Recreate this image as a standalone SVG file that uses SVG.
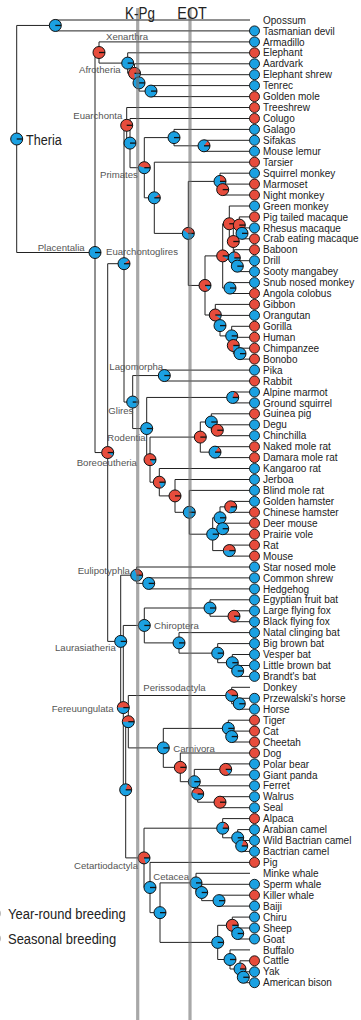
<svg xmlns="http://www.w3.org/2000/svg" width="361" height="1020" viewBox="0 0 361 1020">
<style>
.e{fill:none;stroke:#222;stroke-width:1}
.b{fill:#1BA1E2}
.r{fill:#E74C3C}
.o{fill:none;stroke:#111;stroke-width:1}
.k{stroke:#111;stroke-width:1.3}
.tb{fill:#1BA1E2;stroke:#111;stroke-width:0.9}
.tr{fill:#E74C3C;stroke:#111;stroke-width:0.9}
.tl{font-family:"Liberation Sans",Arial,sans-serif;font-size:10px;fill:#222;white-space:pre}
.cl{font-family:"Liberation Sans",Arial,sans-serif;font-size:9.6px;fill:#555}
.big{font-family:"Liberation Sans",Arial,sans-serif;font-size:15px;fill:#222}
.ax{font-family:"Liberation Sans",Arial,sans-serif;font-size:16px;fill:#222}
.bar{fill:#6e6e6e;fill-opacity:0.6}
.lg{fill:#bbb}
</style>
<defs>
<g id="ring"><circle r="6" class="o"/><path d="M0,0H6" class="k"/></g>
<g id="p0"><circle r="6" class="b"/><use href="#ring"/></g>
<g id="p100"><circle r="6" class="r"/><use href="#ring"/></g>
<g id="p10"><circle r="6" class="b"/><path class="r" d="M0,0H6A6,6 0 0 0 4.854,-3.527Z"/><use href="#ring"/></g>
<g id="p15"><circle r="6" class="b"/><path class="r" d="M0,0H6A6,6 0 0 0 3.527,-4.854Z"/><use href="#ring"/></g>
<g id="p20"><circle r="6" class="b"/><path class="r" d="M0,0H6A6,6 0 0 0 1.854,-5.706Z"/><use href="#ring"/></g>
<g id="p25"><circle r="6" class="b"/><path class="r" d="M0,0H6A6,6 0 0 0 0,-6Z"/><use href="#ring"/></g>
<g id="p30"><circle r="6" class="b"/><path class="r" d="M0,0H6A6,6 0 0 0 -1.854,-5.706Z"/><use href="#ring"/></g>
<g id="p40"><circle r="6" class="b"/><path class="r" d="M0,0H6A6,6 0 0 0 -4.854,-3.527Z"/><use href="#ring"/></g>
<g id="p45"><circle r="6" class="b"/><path class="r" d="M0,0H6A6,6 0 0 0 -5.706,-1.854Z"/><use href="#ring"/></g>
<g id="p50"><circle r="6" class="b"/><path class="r" d="M0,0H6A6,6 0 0 0 -6,0Z"/><use href="#ring"/></g>
<g id="p70"><circle r="6" class="b"/><path class="r" d="M0,0H6A6,6 0 1 0 -1.854,5.706Z"/><use href="#ring"/></g>
<g id="p75"><circle r="6" class="b"/><path class="r" d="M0,0H6A6,6 0 1 0 0,6Z"/><use href="#ring"/></g>
<g id="p80"><circle r="6" class="b"/><path class="r" d="M0,0H6A6,6 0 1 0 1.854,5.706Z"/><use href="#ring"/></g>
<g id="p85"><circle r="6" class="b"/><path class="r" d="M0,0H6A6,6 0 1 0 3.527,4.854Z"/><use href="#ring"/></g>
<g id="p90"><circle r="6" class="b"/><path class="r" d="M0,0H6A6,6 0 1 0 4.854,3.527Z"/><use href="#ring"/></g>
</defs>
<rect width="361" height="1020" fill="#fff"/>

<g id="connectors" class="e">
<path d="M16.7,25.45V252.5M16.7,25.45H55.3M16.7,252.5H95"/>
<path d="M55.3,20V30.9M55.3,20H250M55.3,30.9H250"/>
<path d="M95,52.5V452.55M95,52.5H99M95,452.55H107.7"/>
<path d="M99,41.9V63.1M99,41.9H250M99,63.1H127.7"/>
<path d="M127.7,52.8V73.35M127.7,52.8H250M127.7,73.35H134.5"/>
<path d="M134.5,63.8V82.9M134.5,63.8H250M134.5,82.9H139"/>
<path d="M139,74.7V91.1M139,74.7H250M139,91.1H151"/>
<path d="M151,85.6V96.6M151,85.6H250M151,96.6H250"/>
<path d="M107.7,263.7V641.4M107.7,263.7H124M107.7,641.4H120.7"/>
<path d="M124,125.3V402.05M124,125.3H126.7M124,402.05H132.7"/>
<path d="M126.7,107.5V143.1M126.7,107.5H250M126.7,143.1H130"/>
<path d="M130,118.5V167.7M130,118.5H250M130,167.7H144.3"/>
<path d="M144.3,137.6V197.8M144.3,137.6H174M144.3,197.8H154.3"/>
<path d="M174,129.4V145.8M174,129.4H250M174,145.8H204"/>
<path d="M204,140.3V151.3M204,140.3H250M204,151.3H250"/>
<path d="M154.3,162.2V233.4M154.3,162.2H250M154.3,233.4H188.3"/>
<path d="M188.3,181.4V285.45M188.3,181.4H220M188.3,285.45H205"/>
<path d="M220,173.2V189.6M220,173.2H250M220,189.6H222.7"/>
<path d="M222.7,184.1V195M222.7,184.1H250M222.7,195H250"/>
<path d="M205,255.9V315M205,255.9H222.7M205,315H215.3"/>
<path d="M222.7,223.75V288.05M222.7,223.75H229.3M222.7,288.05H230"/>
<path d="M229.3,206V241.5M229.3,206H250M229.3,241.5H233.3"/>
<path d="M233.3,225.1V257.9M233.3,225.1H239.3M233.3,257.9H234.3"/>
<path d="M239.3,216.9V233.35M239.3,216.9H250M239.3,233.35H242"/>
<path d="M242,227.9V238.8M242,227.9H250M242,238.8H250"/>
<path d="M234.3,249.7V266.15M234.3,249.7H250M234.3,266.15H237.3"/>
<path d="M237.3,260.7V271.6M237.3,260.7H250M237.3,271.6H250"/>
<path d="M230,282.6V293.5M230,282.6H250M230,293.5H250"/>
<path d="M215.3,304.4V325.6M215.3,304.4H250M215.3,325.6H220"/>
<path d="M220,315.4V335.9M220,315.4H250M220,335.9H231.7"/>
<path d="M231.7,326.3V345.5M231.7,326.3H250M231.7,345.5H233.3"/>
<path d="M233.3,337.3V353.65M233.3,337.3H250M233.3,353.65H240"/>
<path d="M240,348.2V359.1M240,348.2H250M240,359.1H250"/>
<path d="M132.7,375.55V428.55M132.7,375.55H164.3M132.7,428.55H146.7"/>
<path d="M164.3,370.1V381M164.3,370.1H250M164.3,381H250"/>
<path d="M146.7,397.45V459.65M146.7,397.45H232.7M146.7,459.65H150"/>
<path d="M232.7,392V402.9M232.7,392H250M232.7,402.9H250"/>
<path d="M150,437.1V482.2M150,437.1H200.3M150,482.2H159.3"/>
<path d="M200.3,422V452.15M200.3,422H211.3M200.3,452.15H215"/>
<path d="M211.3,413.8V430.25M211.3,413.8H250M211.3,430.25H217.3"/>
<path d="M217.3,424.8V435.7M217.3,424.8H250M217.3,435.7H250"/>
<path d="M215,446.7V457.6M215,446.7H250M215,457.6H250"/>
<path d="M159.3,468.5V495.9M159.3,468.5H250M159.3,495.9H175"/>
<path d="M175,479.5V512.3M175,479.5H250M175,512.3H189.3"/>
<path d="M189.3,490.4V534.2M189.3,490.4H250M189.3,534.2H212.7"/>
<path d="M212.7,517.8V550.6M212.7,517.8H220M212.7,550.6H229.3"/>
<path d="M220,506.85V528.7M220,506.85H230.7M220,528.7H222.7"/>
<path d="M230.7,501.4V512.3M230.7,501.4H250M230.7,512.3H250"/>
<path d="M222.7,523.2V534.2M222.7,523.2H250M222.7,534.2H250"/>
<path d="M229.3,545.1V556.1M229.3,545.1H250M229.3,556.1H250"/>
<path d="M120.7,575.2V707.6M120.7,575.2H136.7M120.7,707.6H123.3"/>
<path d="M136.7,567V583.4M136.7,567H250M136.7,583.4H148.7"/>
<path d="M148.7,577.9V588.9M148.7,577.9H250M148.7,588.9H250"/>
<path d="M123.3,625.45V789.8M123.3,625.45H144.3M123.3,789.8H125.7"/>
<path d="M144.3,608V642.9M144.3,608H210M144.3,642.9H179"/>
<path d="M210,599.8V616.25M210,599.8H250M210,616.25H234"/>
<path d="M234,610.8V621.7M234,610.8H250M234,621.7H250"/>
<path d="M179,632.6V653.15M179,632.6H250M179,653.15H217.7"/>
<path d="M217.7,643.6V662.7M217.7,643.6H250M217.7,662.7H232.3"/>
<path d="M232.3,654.5V670.95M232.3,654.5H250M232.3,670.95H237.7"/>
<path d="M237.7,665.5V676.4M237.7,665.5H250M237.7,676.4H250"/>
<path d="M125.7,721.7V857.9M125.7,721.7H128.3M125.7,857.9H144"/>
<path d="M128.3,695.5V747.9M128.3,695.5H231.7M128.3,747.9H163.3"/>
<path d="M231.7,687.3V703.75M231.7,687.3H250M231.7,703.75H239.3"/>
<path d="M239.3,698.3V709.2M239.3,698.3H250M239.3,709.2H250"/>
<path d="M163.3,728.4V767.35M163.3,728.4H228.3M163.3,767.35H180.3"/>
<path d="M228.3,720.2V736.55M228.3,720.2H250M228.3,736.55H231.7"/>
<path d="M231.7,731.1V742M231.7,731.1H250M231.7,742H250"/>
<path d="M180.3,753V781.7M180.3,753H250M180.3,781.7H194.3"/>
<path d="M194.3,769.4V794M194.3,769.4H225.7M194.3,794H197.7"/>
<path d="M225.7,763.9V774.9M225.7,763.9H250M225.7,774.9H250"/>
<path d="M197.7,785.8V802.2M197.7,785.8H250M197.7,802.2H220"/>
<path d="M220,796.7V807.7M220,796.7H250M220,807.7H250"/>
<path d="M144,828.2V887.5M144,828.2H222.7M144,887.5H150"/>
<path d="M222.7,818.6V837.8M222.7,818.6H250M222.7,837.8H237.7"/>
<path d="M237.7,829.6V845.95M237.7,829.6H250M237.7,845.95H241.7"/>
<path d="M241.7,840.5V851.4M241.7,840.5H250M241.7,851.4H250"/>
<path d="M150,862.4V912.65M150,862.4H250M150,912.65H160"/>
<path d="M160,882.9V942.4M160,882.9H196M160,942.4H217.7"/>
<path d="M196,873.3V892.5M196,873.3H250M196,892.5H201.7"/>
<path d="M201.7,884.3V900.65M201.7,884.3H250M201.7,900.65H219"/>
<path d="M219,895.2V906.1M219,895.2H250M219,906.1H250"/>
<path d="M217.7,925.3V959.5M217.7,925.3H232.3M217.7,959.5H230"/>
<path d="M232.3,917.1V933.5M232.3,917.1H250M232.3,933.5H237.7"/>
<path d="M237.7,928V939M237.7,928H250M237.7,939H250"/>
<path d="M230,949.9V969M230,949.9H250M230,969H240"/>
<path d="M240,960.8V977.25M240,960.8H250M240,977.25H243.3"/>
<path d="M243.3,971.8V982.7M243.3,971.8H250M243.3,982.7H250"/>
</g>

<g id="clade-labels" class="cl">
<text x="106" y="40">Xenarthra</text>
<text x="79" y="72.5">Afrotheria</text>
<text x="73.3" y="118.5">Euarchonta</text>
<text x="100" y="177.5">Primates</text>
<text x="37.7" y="250.5">Placentalia</text>
<text x="106" y="255">Euarchontoglires</text>
<text x="109.3" y="370">Lagomorpha</text>
<text x="108.3" y="414">Glires</text>
<text x="107.3" y="441">Rodentia</text>
<text x="76.7" y="466">Boreoeutheria</text>
<text x="77.7" y="573.5">Eulipotyphla</text>
<text x="154" y="628.5">Chiroptera</text>
<text x="55" y="651">Laurasiatheria</text>
<text x="143.3" y="690.7">Perissodactyla</text>
<text x="51.7" y="711.7">Fereuungulata</text>
<text x="173.3" y="751.5">Carnivora</text>
<text x="74" y="868.5">Cetartiodactyla</text>
<text x="153.3" y="879.5">Cetacea</text>
</g>

<g id="n-theria"><use href="#p0" x="16.7" y="139"/><text class="big" transform="translate(26,145) scale(0.84,1)">Theria</text></g>
<g id="n-marsupialia"><use href="#p0" x="55.3" y="25.45"/></g>
<g id="n-placentalia"><use href="#p0" x="95" y="252.5"/></g>
<g id="n-atlantogenata"><use href="#p100" x="99" y="52.5"/></g>
<g id="n-afrotheria"><use href="#p0" x="127.7" y="63.1"/></g>
<g id="n-afro1"><use href="#p75" x="134.5" y="73.35"/></g>
<g id="n-afro2"><use href="#p0" x="139" y="82.9"/></g>
<g id="n-afro3"><use href="#p0" x="151" y="91.1"/></g>
<g id="n-boreoeutheria"><use href="#p90" x="107.7" y="452.55"/></g>
<g id="n-euarchontoglires"><use href="#p10" x="124" y="263.7"/></g>
<g id="n-euarchonta"><use href="#p100" x="126.7" y="125.3"/></g>
<g id="n-primatomorpha"><use href="#p0" x="130" y="143.1"/></g>
<g id="n-primates"><use href="#p45" x="144.3" y="167.7"/></g>
<g id="n-strepsirrhini"><use href="#p0" x="174" y="137.6"/></g>
<g id="n-lemurs"><use href="#p15" x="204" y="145.8"/></g>
<g id="n-haplorhini"><use href="#p10" x="154.3" y="197.8"/></g>
<g id="n-anthropoidea"><use href="#p40" x="188.3" y="233.4"/></g>
<g id="n-platyrrhini"><use href="#p25" x="220" y="181.4"/></g>
<g id="n-callitrichid"><use href="#p100" x="222.7" y="189.6"/></g>
<g id="n-catarrhini"><use href="#p85" x="205" y="285.45"/></g>
<g id="n-cercopithecidae"><use href="#p90" x="222.7" y="255.9"/></g>
<g id="n-cercopithecinae"><use href="#p100" x="229.3" y="223.75"/></g>
<g id="n-papionini"><use href="#p100" x="233.3" y="241.5"/></g>
<g id="n-macaca"><use href="#p100" x="239.3" y="225.1"/></g>
<g id="n-rhesus-crab"><use href="#p0" x="242" y="233.35"/></g>
<g id="n-baboon-clade"><use href="#p25" x="234.3" y="257.9"/></g>
<g id="n-drill-sooty"><use href="#p0" x="237.3" y="266.15"/></g>
<g id="n-colobinae"><use href="#p0" x="230" y="288.05"/></g>
<g id="n-hominoidea"><use href="#p90" x="215.3" y="315"/></g>
<g id="n-hominidae"><use href="#p0" x="220" y="325.6"/></g>
<g id="n-homininae"><use href="#p0" x="231.7" y="335.9"/></g>
<g id="n-hominini"><use href="#p75" x="233.3" y="345.5"/></g>
<g id="n-pan"><use href="#p0" x="240" y="353.65"/></g>
<g id="n-glires"><use href="#p0" x="132.7" y="402.05"/></g>
<g id="n-lagomorpha"><use href="#p0" x="164.3" y="375.55"/></g>
<g id="n-rodentia"><use href="#p0" x="146.7" y="428.55"/></g>
<g id="n-sciuridae"><use href="#p20" x="232.7" y="397.45"/></g>
<g id="n-rod2"><use href="#p85" x="150" y="459.65"/></g>
<g id="n-hystricomorpha"><use href="#p100" x="200.3" y="437.1"/></g>
<g id="n-caviomorpha"><use href="#p0" x="211.3" y="422"/></g>
<g id="n-degu-chinchilla"><use href="#p100" x="217.3" y="430.25"/></g>
<g id="n-molerats"><use href="#p15" x="215" y="452.15"/></g>
<g id="n-rod3"><use href="#p80" x="159.3" y="482.2"/></g>
<g id="n-rod4"><use href="#p100" x="175" y="495.9"/></g>
<g id="n-rod5"><use href="#p0" x="189.3" y="512.3"/></g>
<g id="n-muroidea"><use href="#p0" x="212.7" y="534.2"/></g>
<g id="n-cricetidae"><use href="#p0" x="220" y="517.8"/></g>
<g id="n-hamsters"><use href="#p70" x="230.7" y="506.85"/></g>
<g id="n-deermouse-vole"><use href="#p0" x="222.7" y="528.7"/></g>
<g id="n-muridae"><use href="#p50" x="229.3" y="550.6"/></g>
<g id="n-laurasiatheria"><use href="#p0" x="120.7" y="641.4"/></g>
<g id="n-eulipotyphla"><use href="#p30" x="136.7" y="575.2"/></g>
<g id="n-shrew-hedgehog"><use href="#p0" x="148.7" y="583.4"/></g>
<g id="n-scrotifera"><use href="#p50" x="123.3" y="707.6"/></g>
<g id="n-chiroptera"><use href="#p0" x="144.3" y="625.45"/></g>
<g id="n-yinpterochiroptera"><use href="#p0" x="210" y="608"/></g>
<g id="n-pteropus"><use href="#p85" x="234" y="616.25"/></g>
<g id="n-yangochiroptera"><use href="#p0" x="179" y="642.9"/></g>
<g id="n-vesper1"><use href="#p0" x="217.7" y="653.15"/></g>
<g id="n-vesper2"><use href="#p0" x="232.3" y="662.7"/></g>
<g id="n-myotis"><use href="#p0" x="237.7" y="670.95"/></g>
<g id="n-fereuungulata"><use href="#p20" x="125.7" y="789.8"/></g>
<g id="n-peris-carn"><use href="#p50" x="128.3" y="721.7"/></g>
<g id="n-perissodactyla"><use href="#p40" x="231.7" y="695.5"/></g>
<g id="n-horses"><use href="#p0" x="239.3" y="703.75"/></g>
<g id="n-carnivora"><use href="#p0" x="163.3" y="747.9"/></g>
<g id="n-felidae"><use href="#p0" x="228.3" y="728.4"/></g>
<g id="n-cat-cheetah"><use href="#p0" x="231.7" y="736.55"/></g>
<g id="n-caniformia"><use href="#p100" x="180.3" y="767.35"/></g>
<g id="n-arctoidea"><use href="#p0" x="194.3" y="781.7"/></g>
<g id="n-ursidae"><use href="#p85" x="225.7" y="769.4"/></g>
<g id="n-musteloidea-pinn"><use href="#p45" x="197.7" y="794"/></g>
<g id="n-pinnipedia"><use href="#p100" x="220" y="802.2"/></g>
<g id="n-cetartiodactyla"><use href="#p80" x="144" y="857.9"/></g>
<g id="n-tylopoda"><use href="#p20" x="222.7" y="828.2"/></g>
<g id="n-camelus"><use href="#p0" x="237.7" y="837.8"/></g>
<g id="n-bactrians"><use href="#p20" x="241.7" y="845.95"/></g>
<g id="n-artiofabula"><use href="#p0" x="150" y="887.5"/></g>
<g id="n-cetruminantia"><use href="#p0" x="160" y="912.65"/></g>
<g id="n-cetacea"><use href="#p0" x="196" y="882.9"/></g>
<g id="n-odontoceti"><use href="#p0" x="201.7" y="892.5"/></g>
<g id="n-killer-baiji"><use href="#p0" x="219" y="900.65"/></g>
<g id="n-bovidae"><use href="#p0" x="217.7" y="942.4"/></g>
<g id="n-caprinae"><use href="#p75" x="232.3" y="925.3"/></g>
<g id="n-sheep-goat"><use href="#p0" x="237.7" y="933.5"/></g>
<g id="n-bovinae"><use href="#p0" x="230" y="959.5"/></g>
<g id="n-bos"><use href="#p20" x="240" y="969"/></g>
<g id="n-yak-bison"><use href="#p0" x="243.3" y="977.25"/></g>

<g id="tips" class="tl">
<g id="t-opossum"><text x="263" y="23.6">Opossum</text></g>
<g id="t-tasmanian-devil"><circle class="tb" cx="254.5" cy="30.9" r="5"/><text x="263" y="34.5">Tasmanian devil</text></g>
<g id="t-armadillo"><circle class="tb" cx="254.5" cy="41.9" r="5"/><text x="263" y="45.5">Armadillo</text></g>
<g id="t-elephant"><circle class="tr" cx="254.5" cy="52.8" r="5"/><text x="263" y="56.4">Elephant</text></g>
<g id="t-aardvark"><circle class="tb" cx="254.5" cy="63.8" r="5"/><text x="263" y="67.4">Aardvark</text></g>
<g id="t-elephant-shrew"><circle class="tb" cx="254.5" cy="74.7" r="5"/><text x="263" y="78.3">Elephant shrew</text></g>
<g id="t-tenrec"><circle class="tb" cx="254.5" cy="85.6" r="5"/><text x="263" y="89.2">Tenrec</text></g>
<g id="t-golden-mole"><circle class="tr" cx="254.5" cy="96.6" r="5"/><text x="263" y="100.2">Golden mole</text></g>
<g id="t-treeshrew"><circle class="tr" cx="254.5" cy="107.5" r="5"/><text x="263" y="111.1">Treeshrew</text></g>
<g id="t-colugo"><circle class="tr" cx="254.5" cy="118.5" r="5"/><text x="263" y="122.1">Colugo</text></g>
<g id="t-galago"><circle class="tb" cx="254.5" cy="129.4" r="5"/><text x="263" y="133">Galago</text></g>
<g id="t-sifakas"><circle class="tb" cx="254.5" cy="140.3" r="5"/><text x="263" y="143.9">Sifakas</text></g>
<g id="t-mouse-lemur"><circle class="tb" cx="254.5" cy="151.3" r="5"/><text x="263" y="154.9">Mouse lemur</text></g>
<g id="t-tarsier"><circle class="tr" cx="254.5" cy="162.2" r="5"/><text x="263" y="165.8">Tarsier</text></g>
<g id="t-squirrel-monkey"><circle class="tb" cx="254.5" cy="173.2" r="5"/><text x="263" y="176.8">Squirrel monkey</text></g>
<g id="t-marmoset"><circle class="tr" cx="254.5" cy="184.1" r="5"/><text x="263" y="187.7">Marmoset</text></g>
<g id="t-night-monkey"><circle class="tr" cx="254.5" cy="195" r="5"/><text x="263" y="198.6">Night monkey</text></g>
<g id="t-green-monkey"><circle class="tb" cx="254.5" cy="206" r="5"/><text x="263" y="209.6">Green monkey</text></g>
<g id="t-pig-tailed-macaque"><circle class="tr" cx="254.5" cy="216.9" r="5"/><text x="263" y="220.5">Pig  tailed macaque</text></g>
<g id="t-rhesus-macaque"><circle class="tb" cx="254.5" cy="227.9" r="5"/><text x="263" y="231.5">Rhesus macaque</text></g>
<g id="t-crab-eating-macaque"><circle class="tr" cx="254.5" cy="238.8" r="5"/><text x="263" y="242.4">Crab  eating macaque</text></g>
<g id="t-baboon"><circle class="tr" cx="254.5" cy="249.7" r="5"/><text x="263" y="253.3">Baboon</text></g>
<g id="t-drill"><circle class="tb" cx="254.5" cy="260.7" r="5"/><text x="263" y="264.3">Drill</text></g>
<g id="t-sooty-mangabey"><circle class="tb" cx="254.5" cy="271.6" r="5"/><text x="263" y="275.2">Sooty mangabey</text></g>
<g id="t-snub-nosed-monkey"><circle class="tb" cx="254.5" cy="282.6" r="5"/><text x="263" y="286.2">Snub  nosed monkey</text></g>
<g id="t-angola-colobus"><circle class="tr" cx="254.5" cy="293.5" r="5"/><text x="263" y="297.1">Angola colobus</text></g>
<g id="t-gibbon"><circle class="tr" cx="254.5" cy="304.4" r="5"/><text x="263" y="308">Gibbon</text></g>
<g id="t-orangutan"><circle class="tb" cx="254.5" cy="315.4" r="5"/><text x="263" y="319">Orangutan</text></g>
<g id="t-gorilla"><circle class="tr" cx="254.5" cy="326.3" r="5"/><text x="263" y="329.9">Gorilla</text></g>
<g id="t-human"><circle class="tr" cx="254.5" cy="337.3" r="5"/><text x="263" y="340.9">Human</text></g>
<g id="t-chimpanzee"><circle class="tr" cx="254.5" cy="348.2" r="5"/><text x="263" y="351.8">Chimpanzee</text></g>
<g id="t-bonobo"><circle class="tr" cx="254.5" cy="359.1" r="5"/><text x="263" y="362.7">Bonobo</text></g>
<g id="t-pika"><circle class="tb" cx="254.5" cy="370.1" r="5"/><text x="263" y="373.7">Pika</text></g>
<g id="t-rabbit"><circle class="tr" cx="254.5" cy="381" r="5"/><text x="263" y="384.6">Rabbit</text></g>
<g id="t-alpine-marmot"><circle class="tb" cx="254.5" cy="392" r="5"/><text x="263" y="395.6">Alpine marmot</text></g>
<g id="t-ground-squirrel"><circle class="tb" cx="254.5" cy="402.9" r="5"/><text x="263" y="406.5">Ground squirrel</text></g>
<g id="t-guinea-pig"><circle class="tr" cx="254.5" cy="413.8" r="5"/><text x="263" y="417.4">Guinea pig</text></g>
<g id="t-degu"><circle class="tb" cx="254.5" cy="424.8" r="5"/><text x="263" y="428.4">Degu</text></g>
<g id="t-chinchilla"><circle class="tb" cx="254.5" cy="435.7" r="5"/><text x="263" y="439.3">Chinchilla</text></g>
<g id="t-naked-mole-rat"><circle class="tr" cx="254.5" cy="446.7" r="5"/><text x="263" y="450.3">Naked mole  rat</text></g>
<g id="t-damara-mole-rat"><circle class="tr" cx="254.5" cy="457.6" r="5"/><text x="263" y="461.2">Damara mole  rat</text></g>
<g id="t-kangaroo-rat"><circle class="tb" cx="254.5" cy="468.5" r="5"/><text x="263" y="472.1">Kangaroo rat</text></g>
<g id="t-jerboa"><circle class="tb" cx="254.5" cy="479.5" r="5"/><text x="263" y="483.1">Jerboa</text></g>
<g id="t-blind-mole-rat"><circle class="tb" cx="254.5" cy="490.4" r="5"/><text x="263" y="494">Blind mole rat</text></g>
<g id="t-golden-hamster"><circle class="tb" cx="254.5" cy="501.4" r="5"/><text x="263" y="505">Golden hamster</text></g>
<g id="t-chinese-hamster"><circle class="tr" cx="254.5" cy="512.3" r="5"/><text x="263" y="515.9">Chinese hamster</text></g>
<g id="t-deer-mouse"><circle class="tr" cx="254.5" cy="523.2" r="5"/><text x="263" y="526.8">Deer mouse</text></g>
<g id="t-prairie-vole"><circle class="tr" cx="254.5" cy="534.2" r="5"/><text x="263" y="537.8">Prairie vole</text></g>
<g id="t-rat"><circle class="tr" cx="254.5" cy="545.1" r="5"/><text x="263" y="548.7">Rat</text></g>
<g id="t-mouse"><circle class="tr" cx="254.5" cy="556.1" r="5"/><text x="263" y="559.7">Mouse</text></g>
<g id="t-star-nosed-mole"><circle class="tb" cx="254.5" cy="567" r="5"/><text x="263" y="570.6">Star  nosed mole</text></g>
<g id="t-common-shrew"><circle class="tb" cx="254.5" cy="577.9" r="5"/><text x="263" y="581.5">Common shrew</text></g>
<g id="t-hedgehog"><circle class="tb" cx="254.5" cy="588.9" r="5"/><text x="263" y="592.5">Hedgehog</text></g>
<g id="t-egyptian-fruit-bat"><circle class="tb" cx="254.5" cy="599.8" r="5"/><text x="263" y="603.4">Egyptian fruit bat</text></g>
<g id="t-large-flying-fox"><circle class="tb" cx="254.5" cy="610.8" r="5"/><text x="263" y="614.4">Large flying fox</text></g>
<g id="t-black-flying-fox"><circle class="tb" cx="254.5" cy="621.7" r="5"/><text x="263" y="625.3">Black flying fox</text></g>
<g id="t-natal-clinging-bat"><circle class="tb" cx="254.5" cy="632.6" r="5"/><text x="263" y="636.2">Natal clinging bat</text></g>
<g id="t-big-brown-bat"><circle class="tb" cx="254.5" cy="643.6" r="5"/><text x="263" y="647.2">Big brown bat</text></g>
<g id="t-vesper-bat"><circle class="tb" cx="254.5" cy="654.5" r="5"/><text x="263" y="658.1">Vesper bat</text></g>
<g id="t-little-brown-bat"><circle class="tb" cx="254.5" cy="665.5" r="5"/><text x="263" y="669.1">Little brown bat</text></g>
<g id="t-brandts-bat"><circle class="tb" cx="254.5" cy="676.4" r="5"/><text x="263" y="680">Brandt's bat</text></g>
<g id="t-donkey"><text x="263" y="690.9">Donkey</text></g>
<g id="t-przewalskis-horse"><circle class="tb" cx="254.5" cy="698.3" r="5"/><text x="263" y="701.9">Przewalski's horse</text></g>
<g id="t-horse"><circle class="tb" cx="254.5" cy="709.2" r="5"/><text x="263" y="712.8">Horse</text></g>
<g id="t-tiger"><circle class="tr" cx="254.5" cy="720.2" r="5"/><text x="263" y="723.8">Tiger</text></g>
<g id="t-cat"><circle class="tr" cx="254.5" cy="731.1" r="5"/><text x="263" y="734.7">Cat</text></g>
<g id="t-cheetah"><circle class="tr" cx="254.5" cy="742" r="5"/><text x="263" y="745.6">Cheetah</text></g>
<g id="t-dog"><circle class="tr" cx="254.5" cy="753" r="5"/><text x="263" y="756.6">Dog</text></g>
<g id="t-polar-bear"><circle class="tb" cx="254.5" cy="763.9" r="5"/><text x="263" y="767.5">Polar bear</text></g>
<g id="t-giant-panda"><circle class="tb" cx="254.5" cy="774.9" r="5"/><text x="263" y="778.5">Giant panda</text></g>
<g id="t-ferret"><circle class="tb" cx="254.5" cy="785.8" r="5"/><text x="263" y="789.4">Ferret</text></g>
<g id="t-walrus"><circle class="tb" cx="254.5" cy="796.7" r="5"/><text x="263" y="800.3">Walrus</text></g>
<g id="t-seal"><circle class="tb" cx="254.5" cy="807.7" r="5"/><text x="263" y="811.3">Seal</text></g>
<g id="t-alpaca"><circle class="tr" cx="254.5" cy="818.6" r="5"/><text x="263" y="822.2">Alpaca</text></g>
<g id="t-arabian-camel"><circle class="tb" cx="254.5" cy="829.6" r="5"/><text x="263" y="833.2">Arabian camel</text></g>
<g id="t-wild-bactrian-camel"><circle class="tb" cx="254.5" cy="840.5" r="5"/><text x="263" y="844.1">Wild Bactrian camel</text></g>
<g id="t-bactrian-camel"><circle class="tb" cx="254.5" cy="851.4" r="5"/><text x="263" y="855">Bactrian camel</text></g>
<g id="t-pig"><circle class="tr" cx="254.5" cy="862.4" r="5"/><text x="263" y="866">Pig</text></g>
<g id="t-minke-whale"><text x="263" y="876.9">Minke whale</text></g>
<g id="t-sperm-whale"><circle class="tb" cx="254.5" cy="884.3" r="5"/><text x="263" y="887.9">Sperm whale</text></g>
<g id="t-killer-whale"><circle class="tr" cx="254.5" cy="895.2" r="5"/><text x="263" y="898.8">Killer whale</text></g>
<g id="t-baiji"><circle class="tb" cx="254.5" cy="906.1" r="5"/><text x="263" y="909.7">Baiji</text></g>
<g id="t-chiru"><circle class="tb" cx="254.5" cy="917.1" r="5"/><text x="263" y="920.7">Chiru</text></g>
<g id="t-sheep"><circle class="tb" cx="254.5" cy="928" r="5"/><text x="263" y="931.6">Sheep</text></g>
<g id="t-goat"><circle class="tb" cx="254.5" cy="939" r="5"/><text x="263" y="942.6">Goat</text></g>
<g id="t-buffalo"><text x="263" y="953.5">Buffalo</text></g>
<g id="t-cattle"><circle class="tr" cx="254.5" cy="960.8" r="5"/><text x="263" y="964.4">Cattle</text></g>
<g id="t-yak"><circle class="tb" cx="254.5" cy="971.8" r="5"/><text x="263" y="975.4">Yak</text></g>
<g id="t-american-bison"><circle class="tb" cx="254.5" cy="982.7" r="5"/><text x="263" y="986.3">American bison</text></g>
</g>

<g id="legend">
<circle class="lg" cx="-3" cy="913.5" r="4"/>
<circle class="lg" cx="-3" cy="938.5" r="4"/>
<text class="big" transform="translate(8,918.5) scale(0.865,1)">Year-round breeding</text>
<text class="big" transform="translate(8,943.5) scale(0.865,1)">Seasonal breeding</text>
</g>

<g id="time-bars">
<rect class="bar" x="136.1" y="8" width="3.2" height="1012"/>
<rect class="bar" x="188.4" y="8" width="3.2" height="1012"/>
<text class="ax" transform="translate(125,19) scale(0.84,1)">K-Pg</text>
<text class="ax" transform="translate(177.3,19) scale(0.9,1)">EOT</text>
</g>
</svg>
